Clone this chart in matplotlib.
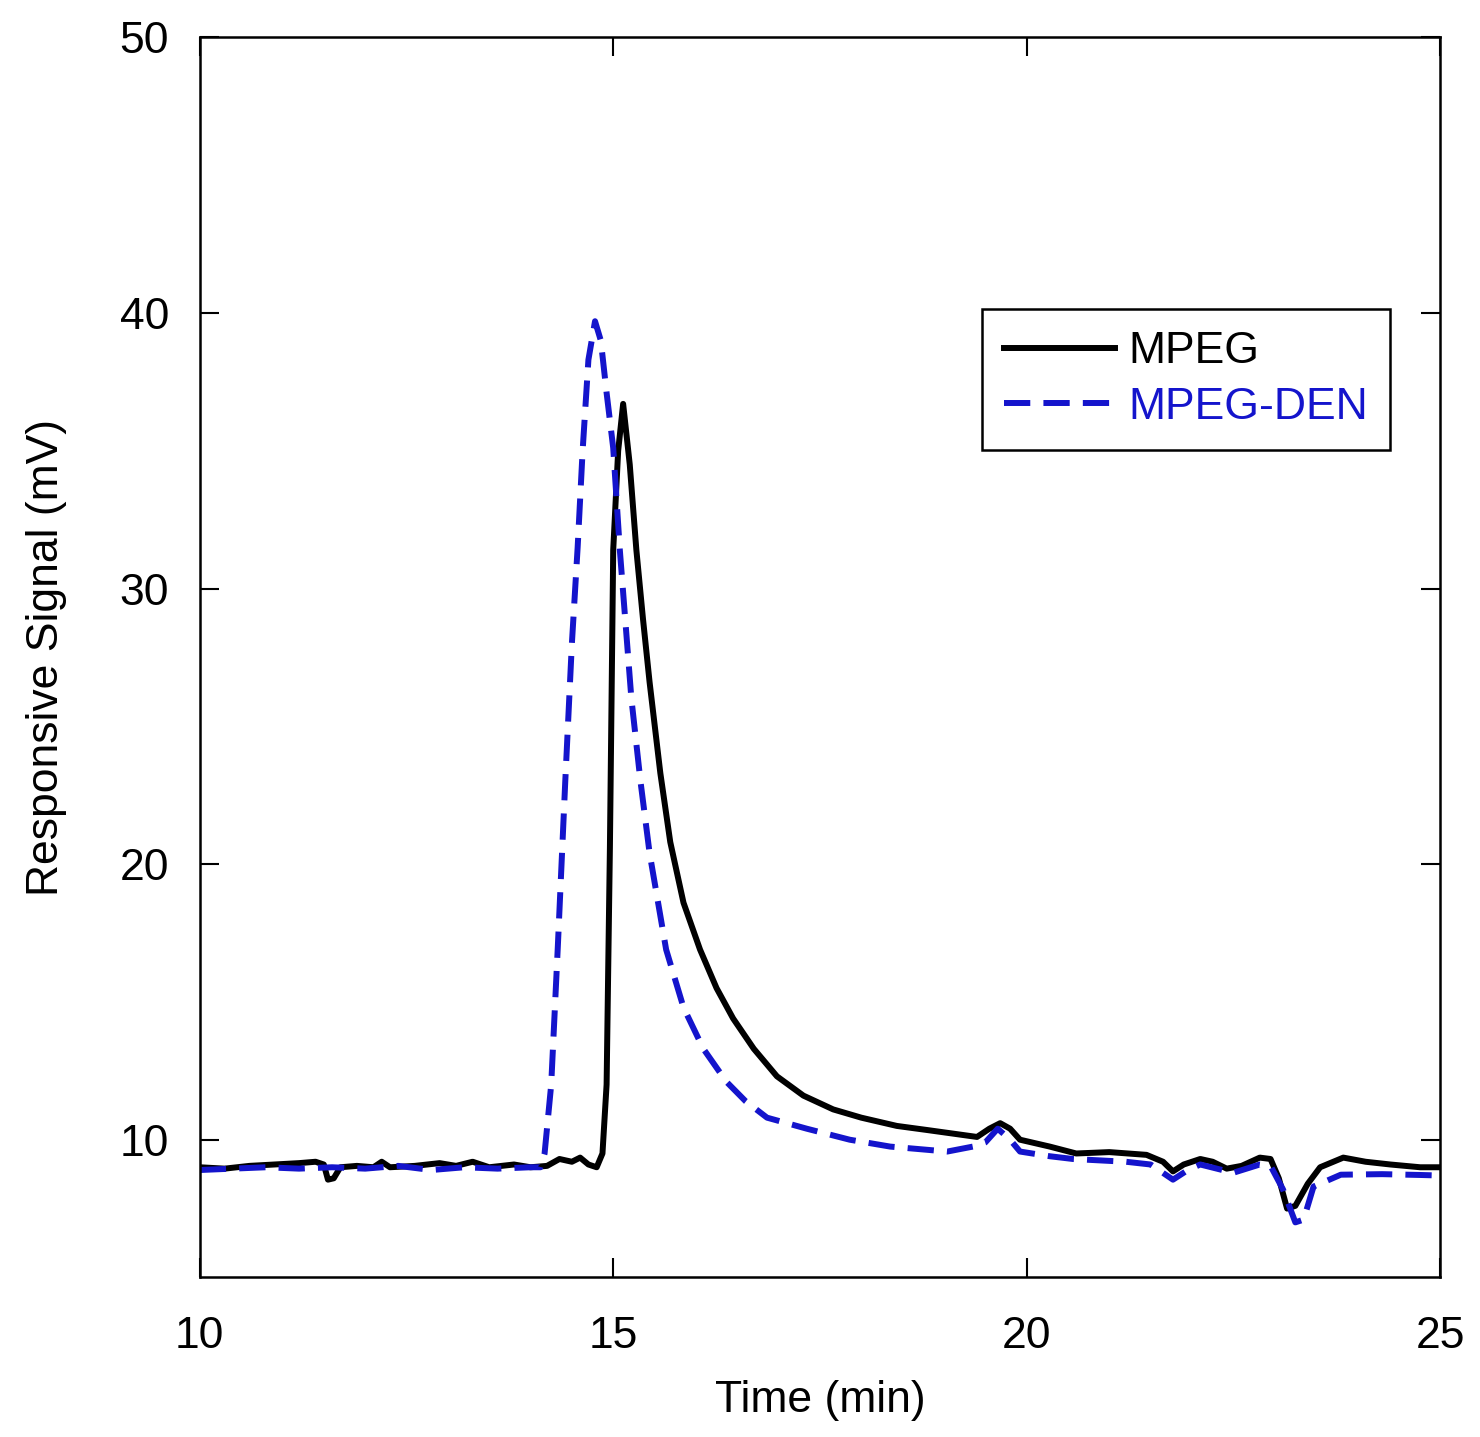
import matplotlib
matplotlib.use("Agg")
import matplotlib.pyplot as plt

plt.rcParams['font.family'] = ['Liberation Sans', 'DejaVu Sans']

# MPEG (black, solid)
t_mpeg = [10.0, 10.3, 10.6, 10.9, 11.2, 11.4, 11.5, 11.55, 11.62, 11.7, 11.9, 12.1, 12.2, 12.3,
          12.6, 12.9, 13.1, 13.3, 13.5, 13.8, 14.0, 14.2, 14.35, 14.5, 14.6, 14.7, 14.8, 14.87,
          14.92, 14.96, 15.0, 15.06, 15.12, 15.2, 15.28, 15.36, 15.44, 15.57, 15.69, 15.85, 16.05,
          16.25, 16.45, 16.7, 16.98, 17.3, 17.66, 18.0, 18.43, 18.8, 19.04, 19.4, 19.55, 19.68,
          19.8, 19.92, 20.28, 20.6, 21.0, 21.45, 21.65, 21.77, 21.9, 22.1, 22.25, 22.42, 22.6,
          22.82, 22.95, 23.05, 23.15, 23.25, 23.4, 23.55, 23.83, 24.1, 24.4, 24.76, 25.0]
v_mpeg = [9.0, 8.95, 9.05, 9.1, 9.15, 9.2, 9.1, 8.55, 8.6, 9.0, 9.05, 9.0, 9.2, 9.0,
          9.05, 9.15, 9.05, 9.2, 9.0, 9.1, 9.0, 9.05, 9.3, 9.2, 9.35, 9.1, 9.0, 9.5,
          12.0, 20.6, 31.4, 35.0, 36.7, 34.5, 31.4, 28.9, 26.6, 23.3, 20.8, 18.6, 16.9,
          15.5, 14.4, 13.3, 12.3, 11.6, 11.1, 10.8, 10.5, 10.35, 10.25, 10.1, 10.4, 10.6,
          10.4, 10.0, 9.75, 9.5, 9.55, 9.45, 9.2, 8.85, 9.1, 9.3, 9.2, 8.95, 9.05,
          9.35, 9.3, 8.6, 7.5, 7.6, 8.4, 9.0, 9.35, 9.2, 9.1, 9.0, 9.0]

# MPEG-DEN (blue, dashed)
t_den = [10.0, 10.4, 10.8, 11.2, 11.6, 12.0, 12.4, 12.8, 13.2, 13.6, 14.0, 14.12, 14.17, 14.25,
         14.33, 14.42, 14.5, 14.57, 14.63, 14.7, 14.78, 14.85, 14.92, 15.0, 15.08, 15.22, 15.33,
         15.44, 15.64, 15.85, 16.09, 16.37, 16.6, 16.86, 17.34, 17.86, 18.35, 19.04, 19.35, 19.5,
         19.65, 19.8, 19.92, 20.28, 20.56, 21.2, 21.5, 21.77, 21.95, 22.1, 22.5, 22.82, 22.95,
         23.1, 23.25, 23.35, 23.47, 23.8, 24.3, 24.76, 25.0]
v_den = [8.9, 8.95, 9.0, 8.95, 9.0, 8.95, 9.05, 8.9, 9.0, 8.95, 9.0, 9.0, 9.5, 12.0,
         17.0, 23.0, 28.0, 31.5, 35.0, 38.3, 39.7, 39.0, 37.1, 35.1, 31.4, 26.0, 23.0,
         20.4, 16.9, 14.8, 13.3, 12.1, 11.4, 10.8, 10.4, 10.0, 9.75, 9.57, 9.75, 9.9,
         10.4, 10.0, 9.57, 9.4, 9.3, 9.2, 9.1, 8.55, 8.9, 9.1, 8.8, 9.1, 9.05,
         8.2, 7.0, 7.1, 8.3, 8.73, 8.75, 8.72, 8.7]

fig = plt.figure(figsize=(14.8, 14.37), dpi=100)
ax = fig.add_axes([0.135, 0.111, 0.838, 0.863])

ax.plot(t_mpeg, v_mpeg, color='black', lw=4.3, label='MPEG')
ax.plot(t_den, v_den, color='#1414cc', lw=4.3, dashes=(4.4, 2.2), label='MPEG-DEN')

ax.set_xlim(10, 25)
ax.set_ylim(5, 50)
ax.set_xticks([10, 15, 20, 25])
ax.set_yticks([10, 20, 30, 40, 50])
ax.tick_params(direction='in', length=14, width=1.5, labelsize=32, top=True, right=True)
ax.tick_params(axis='x', pad=28)
ax.tick_params(axis='y', pad=22)
for s in ax.spines.values():
    s.set_linewidth(1.8)

ax.set_xlabel('Time (min)', fontsize=32, labelpad=16)
ax.set_ylabel('Responsive Signal (mV)', fontsize=32, labelpad=38)

leg = ax.legend(loc='upper right', bbox_to_anchor=(0.96, 0.781), borderaxespad=0, fontsize=32,
                fancybox=False, edgecolor='black', framealpha=1, handlelength=2.5,
                handletextpad=0.3, borderpad=0.5, labelspacing=0.33)
leg.get_frame().set_linewidth(1.8)
for txt, c in zip(leg.get_texts(), ['black', '#1414cc']):
    txt.set_color(c)

fig.savefig('out.png', dpi=100)
